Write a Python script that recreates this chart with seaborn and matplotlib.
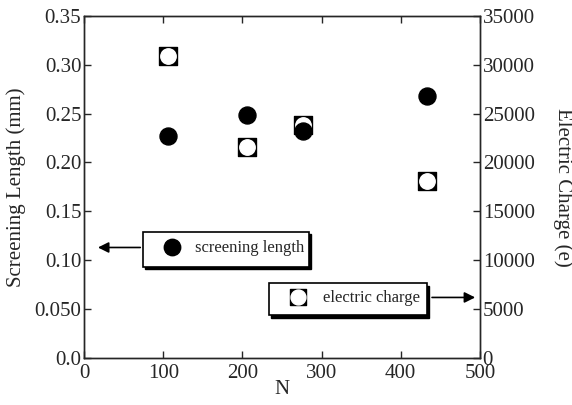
import matplotlib
matplotlib.use("Agg")
import matplotlib.pyplot as plt
from matplotlib.patches import Rectangle
import seaborn as sns
import pandas as pd

# data
n_screen = [106, 206, 276, 433]
screening_length = [0.227, 0.249, 0.232, 0.268]
n_charge = [106, 206, 276, 433]
electric_charge = [30900, 21600, 23800, 18100]

left_ticks = [0.0, 0.05, 0.10, 0.15, 0.20, 0.25, 0.30, 0.35]
left_labels = ["0.0", "0.050", "0.10", "0.15", "0.20", "0.25", "0.30", "0.35"]
right_ticks = [0, 5000, 10000, 15000, 20000, 25000, 30000, 35000]
x_ticks = [0, 100, 200, 300, 400, 500]

sns.set_style("ticks")
plt.rcParams["font.family"] = ["Liberation Serif", "DejaVu Serif"]

df_s = pd.DataFrame({"N": n_screen, "L": screening_length})
df_c = pd.DataFrame({"N": n_charge, "Q": electric_charge})

fig = plt.figure(figsize=(5.72, 4.05), dpi=100)
ax = fig.add_axes([0.147, 0.116, 0.692, 0.845])
ax2 = ax.twinx()
# screening-length circles sit on top of the charge squares
ax.set_zorder(ax2.get_zorder() + 1)
ax.patch.set_visible(False)

# open square with rounded inside, as in the original
sns.scatterplot(data=df_c, x="N", y="Q", ax=ax2, s=150, color="black",
                marker="s", edgecolor="black", zorder=3)
sns.scatterplot(data=df_c, x="N", y="Q", ax=ax2, s=125, color="white",
                marker="o", edgecolor="white", zorder=4)
sns.scatterplot(data=df_s, x="N", y="L", ax=ax, s=150, color="black",
                marker="o", edgecolor="black", zorder=5)

ax.set_xlim(0, 500)
ax.set_ylim(0, 0.35)
ax2.set_ylim(0, 35000)
ax.set_xticks(x_ticks)
ax.set_yticks(left_ticks)
ax.set_yticklabels(left_labels)
ax2.set_yticks(right_ticks)

for a in (ax, ax2):
    for sp in a.spines.values():
        sp.set_visible(True)
        sp.set_linewidth(1.0)
    a.tick_params(direction="in", length=5, width=1, labelsize=15, pad=2)
ax.tick_params(top=True)
ax.tick_params(axis="x", pad=4)

ax.set_xlabel("N", fontsize=15, labelpad=-2)
ax.set_ylabel("Screening Length (mm)", fontsize=15, labelpad=6)
ax2.set_ylabel("Electric Charge (e)", fontsize=15, rotation=270, labelpad=27)

# legend boxes with shadow and arrows
def box(x0, y0, w, h):
    ax.add_patch(Rectangle((x0 + 0.006, y0 - 0.008), w, h, transform=ax.transAxes,
                           facecolor="black", edgecolor="black", zorder=6, clip_on=False))
    ax.add_patch(Rectangle((x0, y0), w, h, transform=ax.transAxes,
                           facecolor="white", edgecolor="black", lw=1.2, zorder=7, clip_on=False))

box(0.149, 0.267, 0.419, 0.102)
ax.annotate("", xy=(0.028, 0.323), xytext=(0.149, 0.323), xycoords="axes fraction",
            arrowprops=dict(arrowstyle="-|>", color="black", lw=1.2, mutation_scale=16),
            zorder=8)
ax.scatter([0.222], [0.323], transform=ax.transAxes, s=140, color="black", zorder=9, clip_on=False)
ax.text(0.28, 0.321, "screening length", transform=ax.transAxes, fontsize=12,
        va="center", ha="left", zorder=9)

box(0.467, 0.125, 0.399, 0.093)
ax.annotate("", xy=(0.995, 0.177), xytext=(0.866 + 0.006, 0.177), xycoords="axes fraction",
            arrowprops=dict(arrowstyle="-|>", color="black", lw=1.2, mutation_scale=16),
            zorder=8)
ax.scatter([0.54], [0.177], transform=ax.transAxes, s=140, marker="s", color="black",
           zorder=9, clip_on=False)
ax.scatter([0.54], [0.177], transform=ax.transAxes, s=115, marker="o", color="white",
           zorder=10, clip_on=False)
ax.text(0.603, 0.175, "electric charge", transform=ax.transAxes, fontsize=12,
        va="center", ha="left", zorder=9)

fig.savefig("out.png", dpi=100)
